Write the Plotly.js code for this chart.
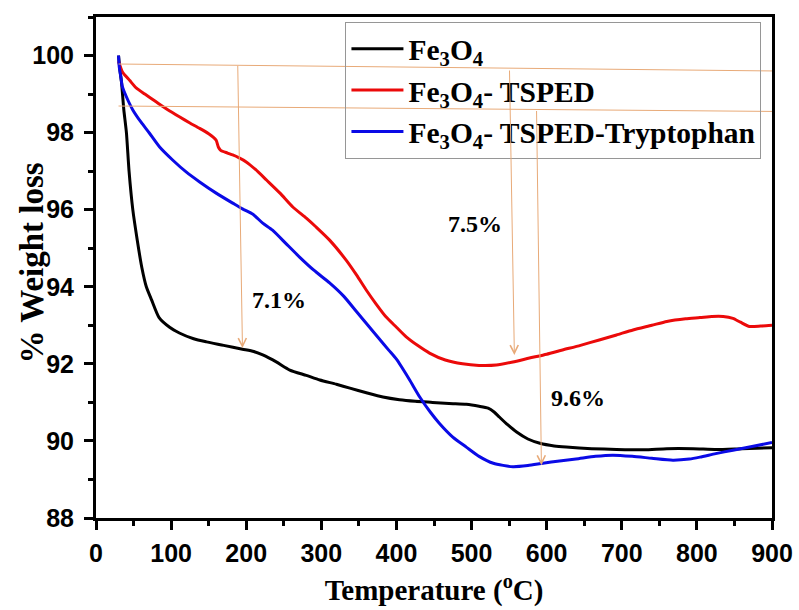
<!DOCTYPE html>
<html>
<head>
<meta charset="utf-8">
<script src="https://cdn.plot.ly/plotly-3.0.1.min.js"></script>
<style>
  html, body { margin: 0; padding: 0; background: #ffffff; }
  #chart { width: 799px; height: 610px; }
</style>
</head>
<body>
<div id="chart"></div>
<script>
// TGA curves: temperature (°C) and remaining weight (%)
const fe3o4Temp = [30, 32, 34, 37, 40.5, 44, 49, 55, 61, 67, 74, 84, 98, 111, 130, 147, 170, 195, 210, 222, 240, 258, 280, 298, 320, 338, 360, 382, 404, 425, 448, 470, 493, 510, 522, 530, 537, 548, 560, 575, 591, 610, 626, 660, 693, 730, 760, 795, 826, 860, 900];
const fe3o4Weight = [100, 99.6, 99.3, 98.6, 98.0, 97.0, 96.0, 95.2, 94.5, 94.0, 93.66, 93.2, 92.95, 92.8, 92.65, 92.57, 92.48, 92.38, 92.32, 92.23, 92.05, 91.84, 91.7, 91.58, 91.47, 91.37, 91.25, 91.14, 91.07, 91.03, 91.0, 90.97, 90.95, 90.9, 90.85, 90.75, 90.62, 90.42, 90.23, 90.05, 89.94, 89.87, 89.84, 89.8, 89.78, 89.77, 89.8, 89.8, 89.78, 89.8, 89.82];

const tspedTemp = [30, 35, 45, 53.5, 65, 80, 95, 111, 125, 138, 150, 156, 160, 163, 166, 175, 182, 190, 200, 212, 227, 245, 262, 280, 293, 311, 333, 347, 360, 373, 386, 400, 413, 428, 444, 465, 488, 510, 533, 555, 577, 600, 621, 645, 670, 693, 715, 740, 760, 785, 804, 820, 835, 848, 858, 870, 885, 900];
const tspedWeight = [99.85, 99.58, 99.35, 99.16, 99.0, 98.8, 98.6, 98.41, 98.25, 98.11, 97.97, 97.88, 97.8, 97.62, 97.54, 97.47, 97.42, 97.35, 97.24, 97.05, 96.77, 96.43, 96.07, 95.78, 95.55, 95.21, 94.69, 94.3, 93.91, 93.55, 93.22, 92.95, 92.7, 92.48, 92.28, 92.1, 92.0, 91.96, 91.97, 92.05, 92.15, 92.25, 92.36, 92.48, 92.62, 92.75, 92.88, 93.0, 93.1, 93.17, 93.2, 93.23, 93.23, 93.18, 93.08, 92.97, 92.98, 93.0];

const trpTemp = [30, 31, 33, 35, 40, 49, 60, 71, 85, 102, 120, 138, 160, 182, 195, 209, 222, 235, 253, 271, 290, 311, 330, 347, 362, 377, 390, 400, 417, 431, 445, 457, 475, 493, 510, 529, 555, 575, 595, 617, 639, 665, 688, 714, 740, 768, 790, 804, 825, 848, 875, 900];
const trpWeight = [100, 99.7, 99.45, 99.2, 98.95, 98.59, 98.27, 97.99, 97.62, 97.29, 96.98, 96.72, 96.43, 96.17, 96.02, 95.88, 95.65, 95.47, 95.12, 94.77, 94.43, 94.1, 93.75, 93.35, 93.0, 92.65, 92.35, 92.12, 91.6, 91.14, 90.75, 90.46, 90.1, 89.84, 89.6, 89.42, 89.33, 89.36, 89.42, 89.48, 89.53, 89.6, 89.63, 89.6, 89.55, 89.5, 89.53, 89.58, 89.67, 89.76, 89.86, 89.96];

const seriesNames = [
  'Fe<sub>3</sub>O<sub>4</sub>',
  'Fe<sub>3</sub>O<sub>4</sub>- TSPED',
  'Fe<sub>3</sub>O<sub>4</sub>- TSPED-Tryptophan'
];
const seriesColors = ['#000000', 'rgb(235,10,10)', 'rgb(10,10,230)'];

// Reference levels (guide lines) and weight-loss arrows, in data units
const guideLineTemp = [[30, 900], [30, 900]];
const guideLineWeight = [[99.78, 99.6], [98.69, 98.55]];
const lossLabels = ['7.1%', '7.5%', '9.6%'];
const lossArrowTailTemp = [188.7, 550.5, 586.5];
const lossArrowTailWeight = [99.77, 99.65, 98.6];
const lossArrowHeadTemp = [195, 557, 593];
const lossArrowHeadWeight = [92.41, 92.23, 89.37];
const lossLabelTemp = [244, 504, 642];
const lossLabelWeight = [93.66, 95.63, 91.12];

const yTitle = '% Weight loss';
const xTitle = 'Temperature (<sup>o</sup>C)';

const guideColor = 'rgb(232,170,120)';
const serif = 'Liberation Serif, Times New Roman, serif';
const sans = 'Liberation Sans, Arial, sans-serif';

const temps = [fe3o4Temp, tspedTemp, trpTemp];
const weights = [fe3o4Weight, tspedWeight, trpWeight];

const traces = temps.map((t, i) => ({
  x: t,
  y: weights[i],
  type: 'scatter',
  mode: 'lines',
  name: seriesNames[i],
  line: { color: seriesColors[i], width: 3, shape: 'spline', smoothing: 0.6 }
}));

const shapes = guideLineTemp.map((t, i) => ({
  type: 'line', xref: 'x', yref: 'y',
  x0: t[0], x1: t[1], y0: guideLineWeight[i][0], y1: guideLineWeight[i][1],
  line: { color: guideColor, width: 1 },
  layer: 'above'
}));

const annotations = [];
lossLabels.forEach((label, i) => {
  annotations.push({
    xref: 'x', yref: 'y', axref: 'x', ayref: 'y',
    x: lossArrowHeadTemp[i], y: lossArrowHeadWeight[i],
    ax: lossArrowTailTemp[i], ay: lossArrowTailWeight[i],
    text: '', showarrow: true,
    arrowhead: 5, arrowsize: 1.6, arrowwidth: 1, arrowcolor: guideColor,
    standoff: 0, startstandoff: 0
  });
  annotations.push({
    xref: 'x', yref: 'y',
    x: lossLabelTemp[i], y: lossLabelWeight[i],
    text: label, showarrow: false,
    font: { family: serif, size: 24, color: '#000', weight: 'bold' }
  });
});

// Vertical axis title, set close to the tick labels
annotations.push({
  xref: 'paper', yref: 'paper',
  x: -0.094, y: 0.509, xanchor: 'center', yanchor: 'middle',
  text: yTitle, textangle: -90, showarrow: false,
  font: { family: serif, size: 33, color: '#000', weight: 'bold' }
});

const tickFont = { family: sans, size: 25, color: '#000', weight: 'bold' };

const layout = {
  width: 799,
  height: 610,
  margin: { l: 96, r: 27, t: 17, b: 92 },
  paper_bgcolor: '#ffffff',
  plot_bgcolor: '#ffffff',
  showlegend: true,
  legend: {
    x: 0.369, y: 0.99, xanchor: 'left', yanchor: 'top',
    bgcolor: 'rgba(0,0,0,0)',
    bordercolor: 'rgb(150,150,150)', borderwidth: 1,
    font: { family: serif, size: 29.5, color: '#000', weight: 'bold' },
    itemwidth: 52
  },
  xaxis: {
    range: [0, 900],
    dtick: 100,
    tick0: 0,
    showgrid: false, zeroline: false,
    showline: true, linewidth: 3, linecolor: '#000', mirror: true,
    ticks: 'outside', ticklen: 9, tickwidth: 3, tickcolor: '#000',
    minor: { ticks: 'outside', dtick: 50, ticklen: 5, tickwidth: 3, tickcolor: '#000' },
    tickfont: tickFont,
    ticklabelstandoff: 2,
    title: {
      text: xTitle,
      font: { family: serif, size: 29, color: '#000', weight: 'bold' },
      standoff: 14
    }
  },
  yaxis: {
    range: [88, 101],
    dtick: 2,
    tick0: 88,
    showgrid: false, zeroline: false,
    showline: true, linewidth: 3, linecolor: '#000', mirror: true,
    ticks: 'outside', ticklen: 9, tickwidth: 3, tickcolor: '#000',
    minor: { ticks: 'outside', dtick: 1, ticklen: 5, tickwidth: 3, tickcolor: '#000' },
    tickfont: tickFont,
    ticklabelstandoff: 5
  },
  shapes: shapes,
  annotations: annotations
};

Plotly.newPlot('chart', traces, layout, { displayModeBar: false, staticPlot: true });
</script>
</body>
</html>
